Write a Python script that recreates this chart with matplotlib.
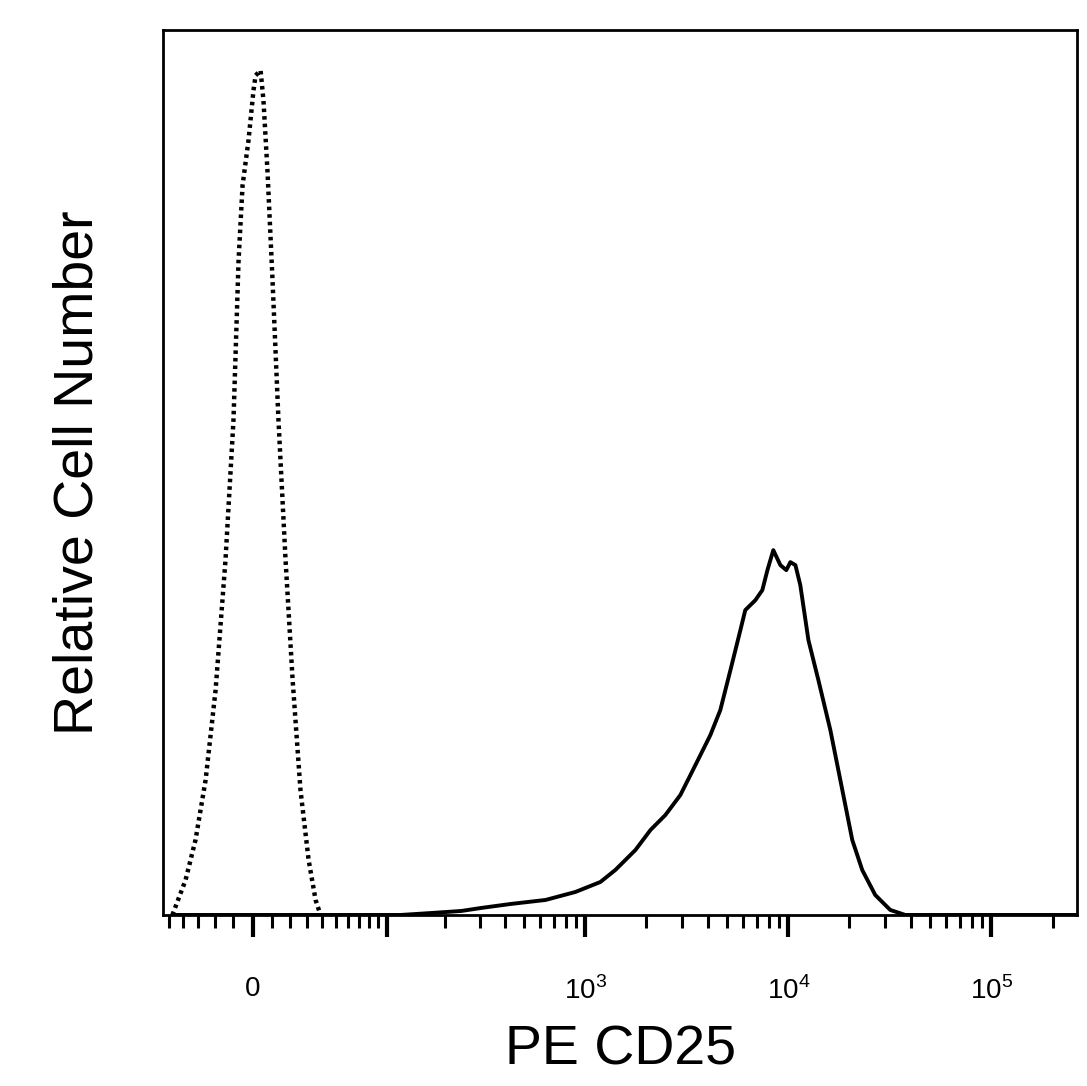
import numpy as np
import matplotlib
matplotlib.use("Agg")
import matplotlib.pyplot as plt
from matplotlib.ticker import FixedLocator, NullFormatter

plt.rcParams["font.family"] = "Liberation Sans"
plt.rcParams["mathtext.fontset"] = "custom"
plt.rcParams["mathtext.rm"] = "Liberation Sans"

# Isotype control (dotted)
ctrl_x = [-47.7, -38.3, -31.8, -25.6, -19.8, -14.3, -10.0, -7.3, -5.2, -2.1, 0.5, 1.6, 4.2,
          5.7, 7.8, 10.5, 13.7, 17.6, 21.6, 26.2, 31.2, 35.7, 39.0]
ctrl_y = [0, 35, 75, 135, 225, 355, 495, 655, 730, 775, 825, 840, 845, 815, 745, 635, 495,
          355, 235, 125, 55, 15, 0]

# PE CD25 stained (solid)
cd25_x = [-47, 119, 173, 243, 305, 428, 636, 893, 1186, 1405, 1765, 2093, 2479, 2938, 3293,
          3688, 4129, 4622, 5184, 5804, 6135, 6883, 7443, 7886, 8430, 9136, 9768, 10229,
          10832, 11450, 12554, 14055, 16099, 18440, 20644, 23110, 26782, 31763, 37660, 264700]
cd25_y = [0, 0, 2, 4, 7, 11, 15, 23, 33, 45, 65, 85, 100, 120, 140, 160, 180, 205, 245, 285,
          305, 315, 325, 345, 365, 350, 345, 353, 350, 330, 275, 235, 185, 125, 75, 45, 20,
          5, 0, 0]

C = 45.9
fig = plt.figure(figsize=(10.87, 10.86), dpi=100)
ax = fig.add_axes([0.150, 0.1575, 0.841, 0.8145])
ax.set_xscale("function", functions=(lambda x: np.arcsinh(np.asarray(x) / C),
                                     lambda y: C * np.sinh(np.asarray(y))))
ax.plot(ctrl_x, ctrl_y, color="black", lw=3.2, linestyle=(0, (0.8, 0.9)))
ax.plot(cd25_x, cd25_y, color="black", lw=2.8)
ax.set_xlim(-55, 264700)
ax.set_ylim(0, 885)

major = [0, 100, 1e3, 1e4, 1e5]
ax.xaxis.set_major_locator(FixedLocator(major))
ax.set_xticklabels(["0", "", "10$^3$", "10$^4$", "10$^5$"], fontsize=20)
minor = [-50, -40, -30, -20, -10, 10, 20, 30, 40, 50, 60, 70, 80, 90]
for d in [100, 1000, 10000, 100000]:
    minor += [d * k for k in range(2, 10) if d * k < 264700]
ax.xaxis.set_minor_locator(FixedLocator(minor))
ax.xaxis.set_minor_formatter(NullFormatter())
ax.tick_params(axis="x", which="major", length=16, width=3, direction="out", pad=28)
ax.tick_params(axis="x", which="minor", length=9, width=2.2, direction="out")
ax.set_yticks([])
for s in ax.spines.values():
    s.set_linewidth(2)

ax.set_xlabel("PE CD25", fontsize=40, labelpad=14)
ax.set_ylabel("Relative Cell Number", fontsize=40, labelpad=42)
fig.savefig("out.png", dpi=100)
